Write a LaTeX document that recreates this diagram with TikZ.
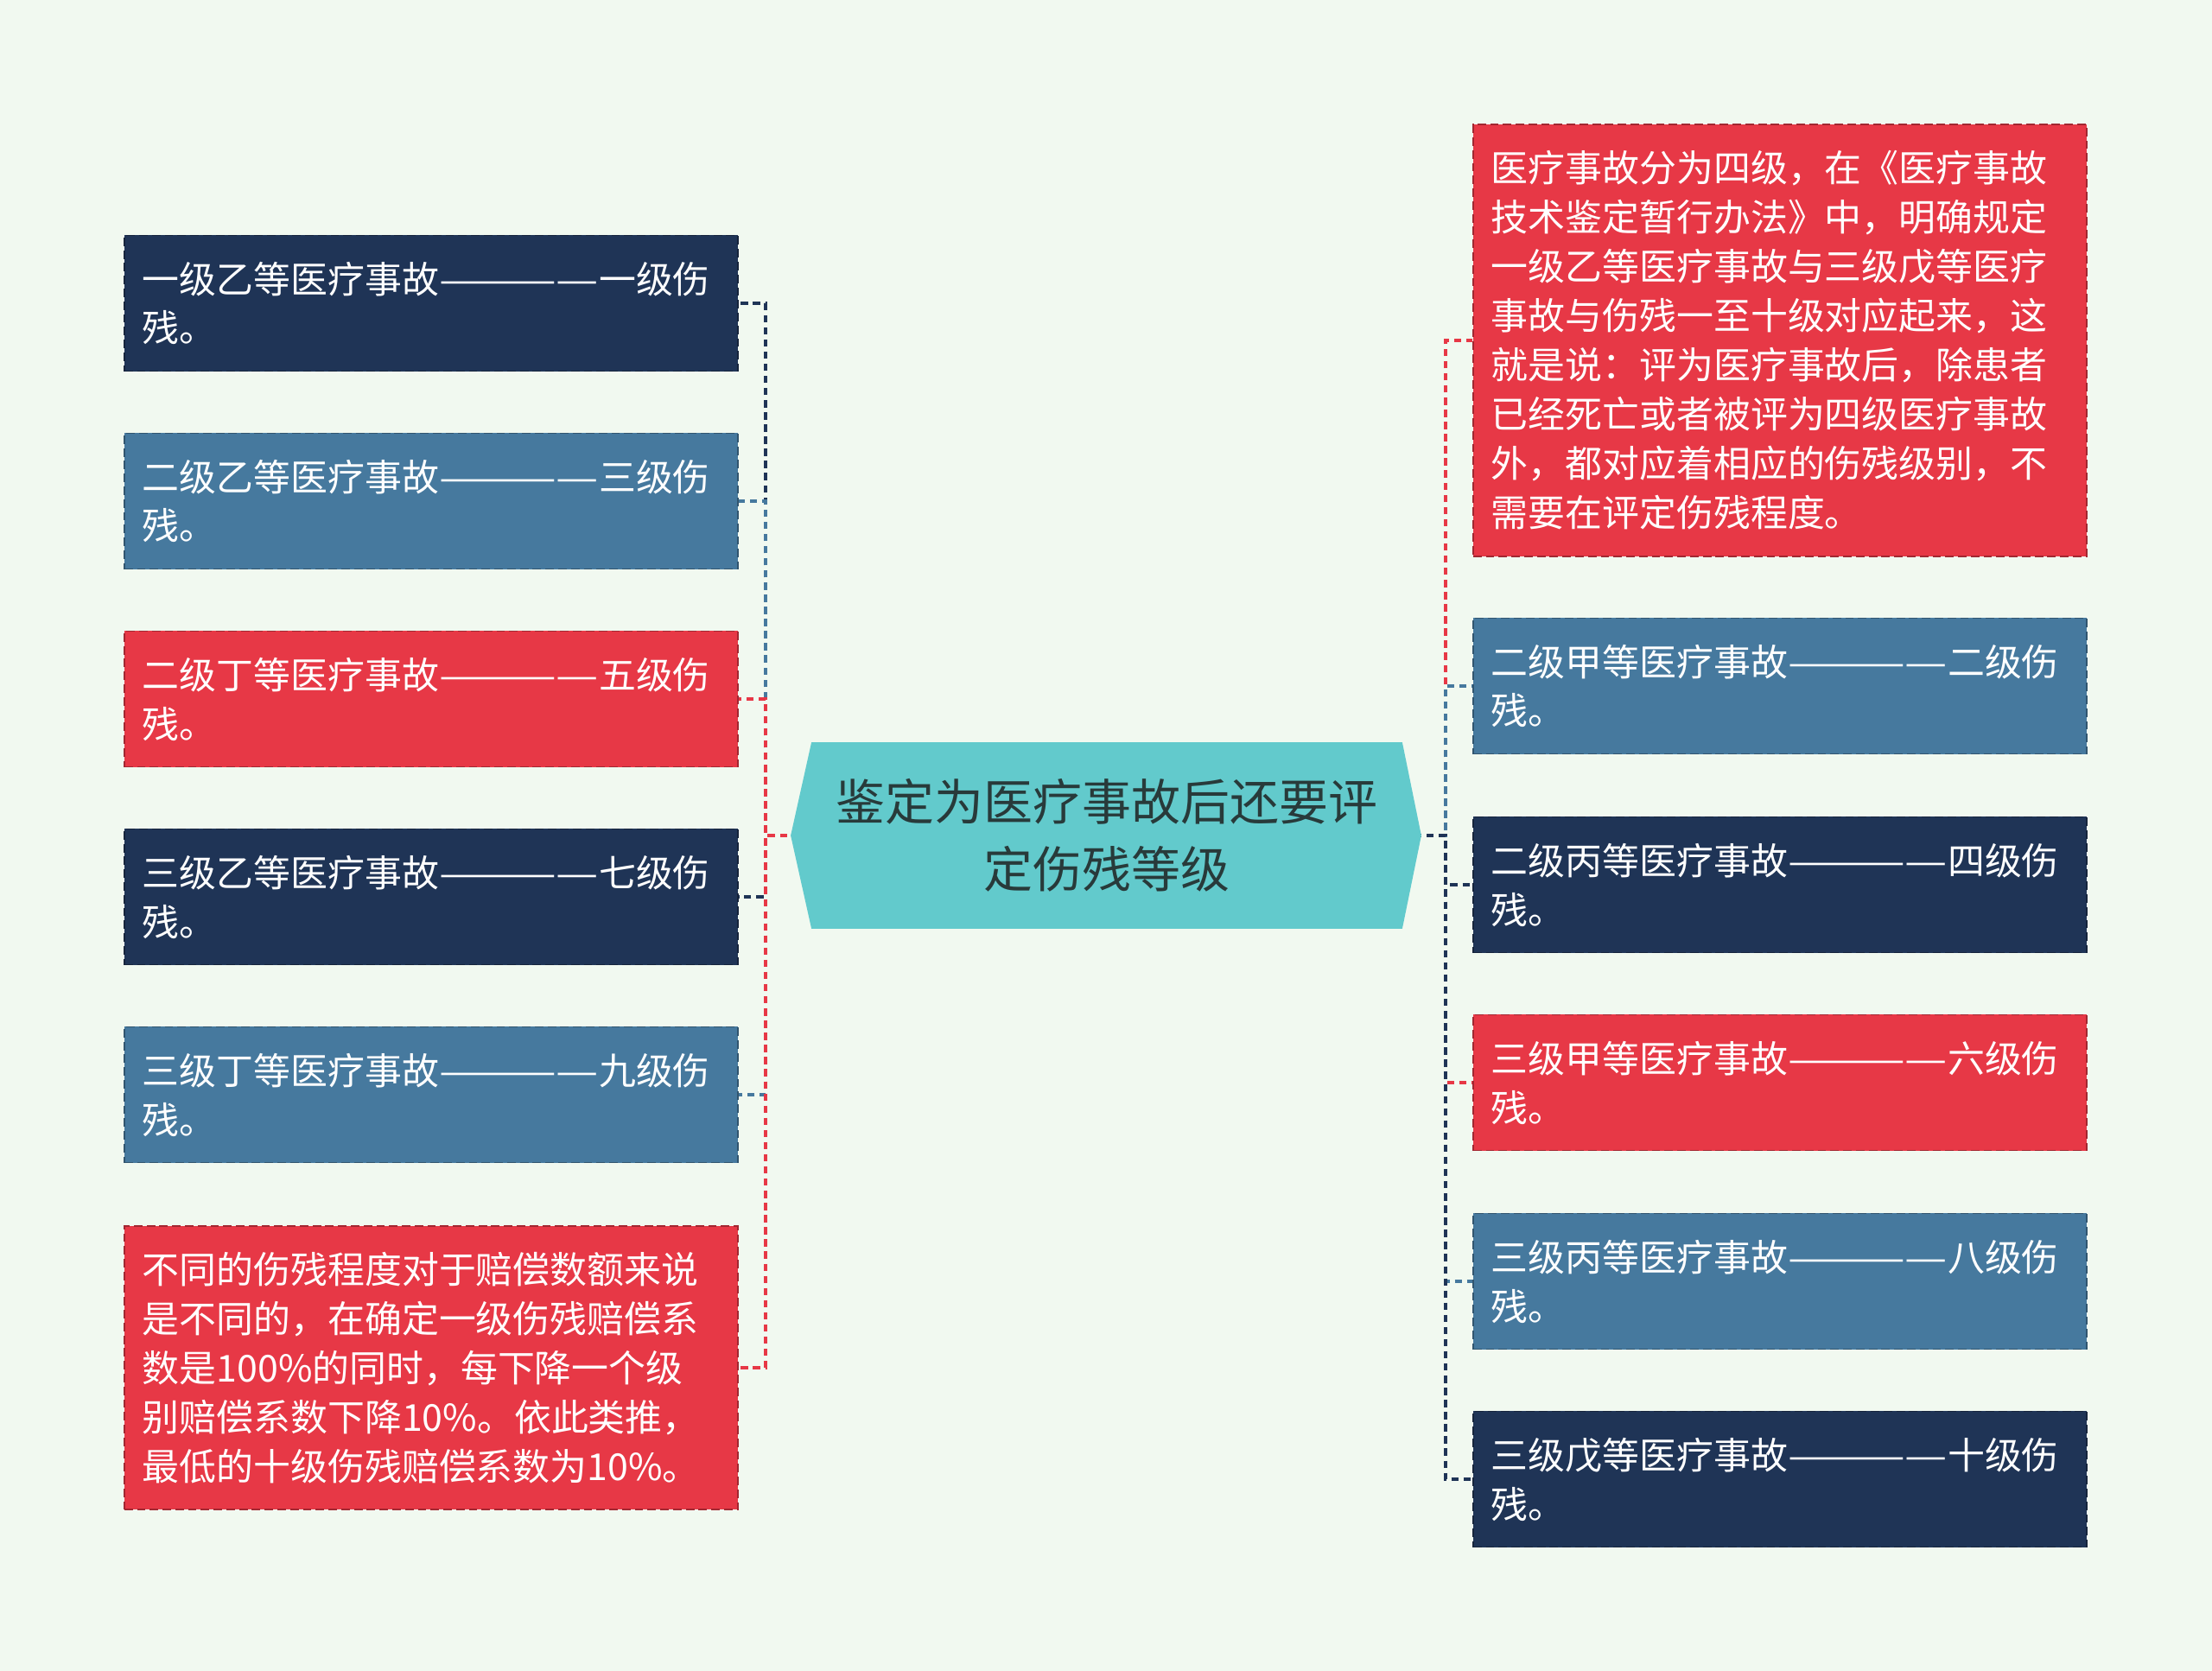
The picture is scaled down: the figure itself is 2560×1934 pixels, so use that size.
\documentclass[tikz,border=0pt]{standalone}
\usepackage{fontspec}
\usepackage{graphicx}
\newfontfamily\cjk{Noto Sans CJK SC}
\usetikzlibrary{backgrounds,calc}
\definecolor{paper}{HTML}{F1F9F0}
\definecolor{navy}{HTML}{1F3456}
\definecolor{steel}{HTML}{46799E}
\definecolor{rose}{HTML}{E73846}
\definecolor{aqua}{HTML}{62CACC}
\definecolor{ink}{HTML}{283A3A}
\newcommand\dashrun{\resizebox{1.85cm}{\height}{————}}
\tikzset{
  leaf/.style={fill=#1,draw=#1!70!black,dash pattern=on 2.8pt off 1.4pt,line width=0.5pt,
    text=white,font=\cjk\fontsize{12.2}{16.2}\selectfont,text width=6.68cm,
    inner xsep=0.21cm,inner ysep=0pt,align=left},
  wire/.style={draw=#1,line width=1.2pt,dash pattern=on 2.4pt off 1.6pt}
}

\begin{document}
\begin{tikzpicture}[x=0.01cm,y=-0.01cm]
\useasboundingbox (0,0) rectangle (2560,1934);
\node[font=\cjk\fontsize{16.2}{22.2}\selectfont,text=ink,align=center,minimum width=6.82cm,minimum height=2.14cm,inner sep=0pt] (hub) at (1281,967) {鉴定为医疗事故后还要评\\定伤残等级};
\node[leaf=navy,minimum height=1.57cm] (l1) at (499,351) {一级乙等医疗事故\dashrun 一级伤\\残。};
\node[leaf=steel,minimum height=1.57cm] (l2) at (499,580) {二级乙等医疗事故\dashrun 三级伤\\残。};
\node[leaf=rose,minimum height=1.57cm] (l3) at (499,809) {二级丁等医疗事故\dashrun 五级伤\\残。};
\node[leaf=navy,minimum height=1.57cm] (l4) at (499,1038) {三级乙等医疗事故\dashrun 七级伤\\残。};
\node[leaf=steel,minimum height=1.57cm] (l5) at (499,1267) {三级丁等医疗事故\dashrun 九级伤\\残。};
\node[leaf=rose,minimum height=3.28cm] (l6) at (499,1583) {不同的伤残程度对于赔偿数额来说\\是不同的，在确定一级伤残赔偿系\\数是100\%的同时，每下降一个级\\别赔偿系数下降10\%。依此类推，\\最低的十级伤残赔偿系数为10\%。};
\node[leaf=rose,minimum height=4.99cm] (r1) at (2060,394) {医疗事故分为四级，在《医疗事故\\技术鉴定暂行办法》中，明确规定\\一级乙等医疗事故与三级戊等医疗\\事故与伤残一至十级对应起来，这\\就是说：评为医疗事故后，除患者\\已经死亡或者被评为四级医疗事故\\外，都对应着相应的伤残级别，不\\需要在评定伤残程度。};
\node[leaf=steel,minimum height=1.57cm] (r2) at (2060,794) {二级甲等医疗事故\dashrun 二级伤\\残。};
\node[leaf=navy,minimum height=1.57cm] (r3) at (2060,1024) {二级丙等医疗事故\dashrun 四级伤\\残。};
\node[leaf=rose,minimum height=1.57cm] (r4) at (2060,1253) {三级甲等医疗事故\dashrun 六级伤\\残。};
\node[leaf=steel,minimum height=1.57cm] (r5) at (2060,1483) {三级丙等医疗事故\dashrun 八级伤\\残。};
\node[leaf=navy,minimum height=1.57cm] (r6) at (2060,1712) {三级戊等医疗事故\dashrun 十级伤\\残。};
\coordinate (lt) at (886,967);
\coordinate (rt) at (1673,967);
\begin{scope}[on background layer]
\fill[paper] (0,0) rectangle (2560,1934);
\draw[wire=navy] (hub.west) -- (lt) |- (l1.east);
\draw[wire=steel] (hub.west) -- (lt) |- (l2.east);
\draw[wire=rose] (hub.west) -- (lt) |- (l3.east);
\draw[wire=navy] (hub.west) -- (lt) |- (l4.east);
\draw[wire=steel] (hub.west) -- (lt) |- (l5.east);
\draw[wire=rose] (hub.west) -- (lt) |- (l6.east);
\draw[wire=rose] (hub.east) -- (rt) |- (r1.west);
\draw[wire=steel] (hub.east) -- (rt) |- (r2.west);
\draw[wire=navy] (hub.east) -- (rt) |- (r3.west);
\draw[wire=rose] (hub.east) -- (rt) |- (r4.west);
\draw[wire=steel] (hub.east) -- (rt) |- (r5.west);
\draw[wire=navy] (hub.east) -- (rt) |- (r6.west);
\fill[aqua] (hub.north west) -- (hub.north east) -- ($(hub.east)+(22,0)$) -- (hub.south east)
  -- (hub.south west) -- ($(hub.west)+(-24,0)$) -- cycle;
\end{scope}
\end{tikzpicture}
\end{document}
